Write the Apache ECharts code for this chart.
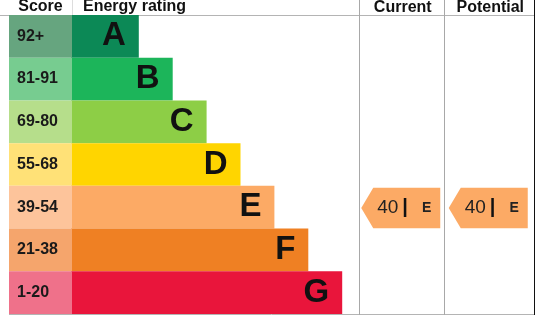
<!DOCTYPE html>
<html>
<head>
<meta charset="utf-8">
<script src="https://cdn.jsdelivr.net/npm/echarts@6/dist/echarts.min.js"></script>
<style>
  html, body { margin: 0; padding: 0; background: #ffffff; }
  #chart { width: 547px; height: 321px; }
</style>
</head>
<body>
<div id="chart"></div>
<script>
  // bands, top to bottom
  var bands = ['A', 'B', 'C', 'D', 'E', 'F', 'G']
  var scoreRanges = ['92+', '81-91', '69-80', '55-68', '39-54', '21-38', '1-20']
  // relative length of each rating bar
  var barLengths = [2, 3, 4, 5, 6, 7, 8]
  // current / potential columns
  var columns = ['Current', 'Potential']
  var ratingScores = [40, 40]
  var ratingBands = ['E', 'E']

  var barColors = ['#0c8956', '#1cb55a', '#8dce46', '#ffd500', '#fcaa65', '#ef8023', '#e9153b']
  var scoreColors = ['#66a57f', '#77cc90', '#b6de8b', '#ffe177', '#fdc49b', '#f5a56c', '#ef718a']
  var font = "'Liberation Sans', Arial, sans-serif"

  var chart = echarts.init(document.getElementById('chart'))

  function bandAxis(i) {
    return {
      gridIndex: i,
      type: 'category',
      data: bands,
      inverse: true,
      show: false
    }
  }

  chart.setOption({
    animation: false,
    textStyle: { fontFamily: font },
    grid: [
      { left: 9, top: 15, width: 63, height: 299 },
      { left: 71, top: 15, width: 271.2, height: 299 },
      { left: 359, top: 15, width: 175, height: 299 }
    ],
    xAxis: [
      { gridIndex: 0, type: 'value', min: 0, max: 1, show: false },
      { gridIndex: 1, type: 'value', min: 0, max: 8, show: false },
      {
        gridIndex: 2,
        type: 'category',
        data: columns,
        position: 'top',
        axisLine: { show: false },
        axisTick: { show: false },
        splitLine: { show: false },
        axisLabel: {
          interval: 0,
          hideOverlap: false,
          margin: 1,
          color: '#111111',
          fontSize: 16,
          fontWeight: 'bold',
          fontFamily: font
        }
      }
    ],
    yAxis: [bandAxis(0), bandAxis(1), bandAxis(2)],
    // frame lines and left headers
    graphic: [
      { type: 'line', shape: { x1: 0, y1: 15.5, x2: 534, y2: 15.5 }, style: { stroke: '#b4b4b4', lineWidth: 1 } },
      { type: 'line', shape: { x1: 9, y1: 314.5, x2: 534, y2: 314.5 }, style: { stroke: '#b4b4b4', lineWidth: 1 } },
      { type: 'line', shape: { x1: 72.5, y1: 0, x2: 72.5, y2: 15 }, style: { stroke: '#dddddd', lineWidth: 1 } },
      { type: 'line', shape: { x1: 359.5, y1: 0, x2: 359.5, y2: 315 }, style: { stroke: '#a8a8a8', lineWidth: 1 } },
      { type: 'line', shape: { x1: 444.5, y1: 0, x2: 444.5, y2: 315 }, style: { stroke: '#a8a8a8', lineWidth: 1 } },
      { type: 'line', shape: { x1: 534.5, y1: 0, x2: 534.5, y2: 315 }, style: { stroke: '#111111', lineWidth: 1 } },
      {
        type: 'text', x: 40.5, y: 7,
        style: { text: 'Score', fill: '#111111', font: 'bold 16px ' + font, align: 'center', verticalAlign: 'middle' }
      },
      {
        type: 'text', x: 83, y: 7,
        style: { text: 'Energy rating', fill: '#111111', font: 'bold 16px ' + font, align: 'left', verticalAlign: 'middle' }
      }
    ],
    series: [
      {
        name: 'rating',
        type: 'bar',
        xAxisIndex: 1,
        yAxisIndex: 1,
        barWidth: '100%',
        data: barLengths.map(function (v, i) {
          return { value: v, itemStyle: { color: barColors[i] } }
        }),
        label: {
          show: true,
          position: 'insideRight',
          distance: 13,
          color: '#111111',
          fontSize: 33,
          fontWeight: 'bold',
          fontFamily: font,
          formatter: function (p) {
            return bands[p.dataIndex]
          }
        }
      },
      {
        name: 'score',
        type: 'bar',
        xAxisIndex: 0,
        yAxisIndex: 0,
        barWidth: '100%',
        data: scoreRanges.map(function (s, i) {
          return { value: 1, itemStyle: { color: scoreColors[i] } }
        }),
        label: {
          show: true,
          position: 'insideLeft',
          distance: 8,
          color: '#1a1a1a',
          fontSize: 16,
          fontWeight: 'bold',
          fontFamily: font,
          formatter: function (p) {
            return scoreRanges[p.dataIndex]
          }
        }
      },
      {
        name: 'indicator',
        type: 'custom',
        xAxisIndex: 2,
        yAxisIndex: 2,
        data: columns.map(function (c, i) {
          return [i, ratingBands[i], ratingScores[i]]
        }),
        renderItem: function (params, api) {
          var bandIndex = api.value(1) // ordinal index on the category axis
          var c = api.coord([api.value(0), bandIndex])
          var size = api.size([1, 1])
          var w = 79
          var h = size[1] - 2
          var tip = c[0] - w / 2 - 2
          var right = tip + w
          var top = c[1] - h / 2
          var bottom = c[1] + h / 2
          var color = barColors[bandIndex]
          return {
            type: 'group',
            children: [
              {
                type: 'polygon',
                shape: {
                  points: [[tip, c[1]], [tip + 12, top], [right, top], [right, bottom], [tip + 12, bottom]]
                },
                style: { fill: color }
              },
              {
                type: 'text',
                x: tip + 43,
                y: c[1],
                style: {
                  text: '{n|' + api.value(2) + '}{b||}{e|' + bands[bandIndex] + '}',
                  align: 'center',
                  verticalAlign: 'middle',
                  rich: {
                    n: { fontSize: 19, fontFamily: font, fill: '#222222' },
                    b: { fontSize: 20, fontWeight: 'bold', fontFamily: font, fill: '#111111', padding: [0, 14, 0, 4] },
                    e: { fontSize: 14, fontWeight: 'bold', fontFamily: font, fill: '#222222' }
                  }
                }
              }
            ]
          }
        }
      }
    ]
  })
</script>
</body>
</html>
